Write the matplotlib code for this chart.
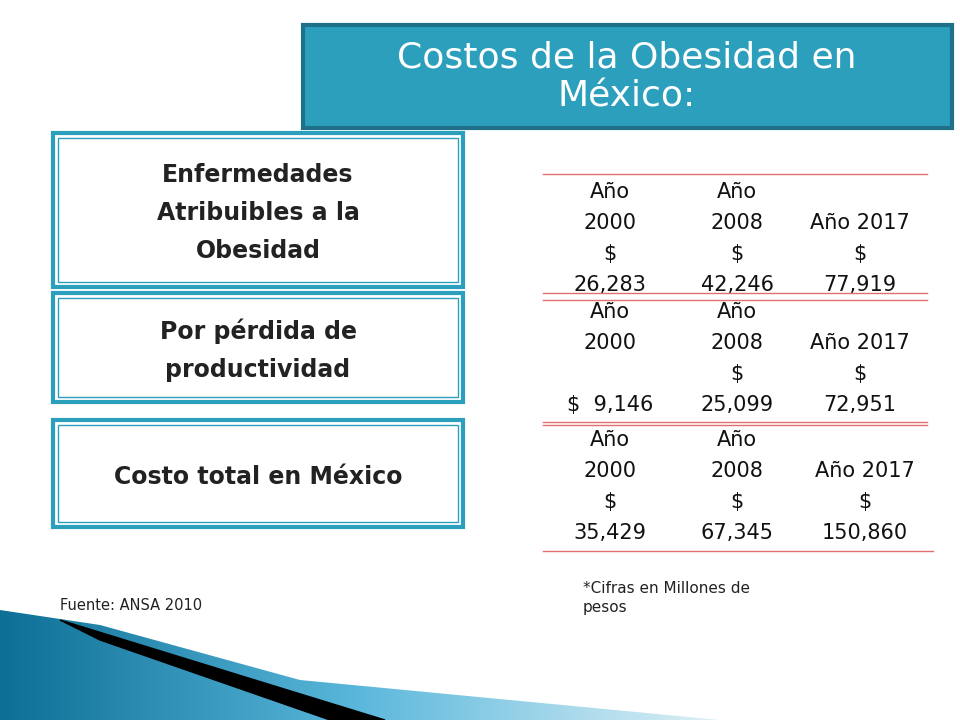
import matplotlib
matplotlib.use("Agg")
import matplotlib.pyplot as plt
from matplotlib.patches import Rectangle, Polygon
import numpy as np

title = "Costos de la Obesidad en\nMéxico:"
row_labels = ["Enfermedades\nAtribuibles a la\nObesidad", "Por pérdida de\nproductividad", "Costo total en México"]
years = ["2000", "2008", "2017"]
cells = [
    [["Año", "2000", "$", "26,283"], ["Año", "2008", "$", "42,246"], ["Año 2017", "$", "77,919"]],
    [["Año", "2000", "", "$  9,146"], ["Año", "2008", "$", "25,099"], ["Año 2017", "$", "72,951"]],
    [["Año", "2000", "$", "35,429"], ["Año", "2008", "$", "67,345"], ["Año 2017", "$", "150,860"]],
]
source = "Fuente: ANSA 2010"
note = "*Cifras en Millones de\npesos"

fig = plt.figure(figsize=(9.6, 7.2), dpi=100)
ax = fig.add_axes([0, 0, 1, 1])
ax.set_xlim(0, 960); ax.set_ylim(720, 0); ax.axis("off")

teal = "#2c9fbd"; dark = "#1f7088"
# decoration bottom-left
grad = np.linspace(0, 1, 256).reshape(1, -1)
im = ax.imshow(grad, extent=(0, 720, 720, 600), cmap=matplotlib.colors.LinearSegmentedColormap.from_list("g", ["#0d6f96", "#5bb8dc", "#dff0f6"]), aspect="auto", zorder=0)
clip = Polygon([[0, 610], [0, 720], [720, 720], [300, 680], [100, 625]], closed=True, transform=ax.transData)
im.set_clip_path(clip)
ax.add_patch(Polygon([[60, 620], [385, 720], [330, 720], [100, 640]], closed=True, color="black", zorder=1))

# title box
ax.add_patch(Rectangle((303, 25), 649, 103, facecolor=teal, edgecolor=dark, lw=3))
ax.text(627, 77, title, color="white", fontsize=26, ha="center", va="center", linespacing=1.15)

boxes = [(133, 154), (293, 109), (420, 107)]
for (y, h), lab in zip(boxes, row_labels):
    ax.add_patch(Rectangle((53, y), 410, h, facecolor="white", edgecolor=teal, lw=3))
    ax.add_patch(Rectangle((58, y + 5), 400, h - 10, facecolor="none", edgecolor=teal, lw=1))
    ax.text(258, y + h / 2 + 3, lab, fontsize=17, fontweight="bold", color="#222222",
            ha="center", va="center", linespacing=1.75)

red = "#e07070"
for yl, x0, x1 in [(174, 543, 927), (293, 543, 927), (300, 543, 927), (422, 543, 927), (425, 543, 927), (551, 543, 933)]:
    ax.plot([x0, x1], [yl, yl], color=red, lw=1)

col_x = [610, 737, 860]
bottoms = [285, 405, 533]
for r, row in enumerate(cells):
    for c, lines in enumerate(row):
        for k, s in enumerate(reversed(lines)):
            x = col_x[c] + (5 if r == 2 and c == 2 else 0)
            ax.text(x, bottoms[r] - 31 * k, s, fontsize=15, ha="center", va="center", color="#111111")

ax.text(60, 606, source, fontsize=10.5, va="center", color="#222222")
ax.text(583, 598, note, fontsize=11, va="center", color="#222222", linespacing=1.3)

fig.savefig("out.png", dpi=100)
